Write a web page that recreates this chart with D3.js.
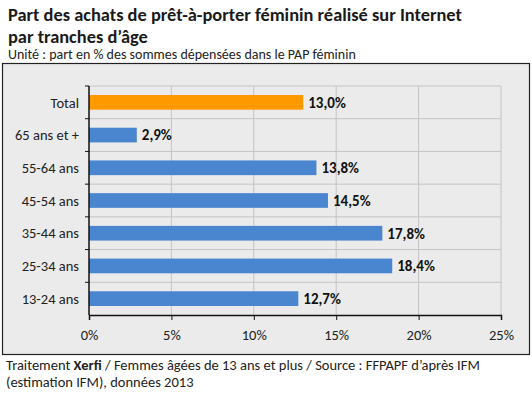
<!DOCTYPE html>
<html><head><meta charset="utf-8">
<script src="https://cdn.jsdelivr.net/npm/d3@7"></script>
<style>
body{margin:0;background:#fff;}
svg{display:block;font-family:Carlito, Lato, "Open Sans", sans-serif;}
</style></head>
<body><svg id="c" width="532" height="394"></svg>
<script>
const categories = ["Total","65 ans et +","55-64 ans","45-54 ans","35-44 ans","25-34 ans","13-24 ans"];
const values = [13.0, 2.9, 13.8, 14.5, 17.8, 18.4, 12.7];
const valueLabels = ["13,0%","2,9%","13,8%","14,5%","17,8%","18,4%","12,7%"];
const xTicks = [0,5,10,15,20,25];
const colors = ["#ff9900","#4a86cf","#4a86cf","#4a86cf","#4a86cf","#4a86cf","#4a86cf"];

const svg = d3.select("#c");
// titles
svg.append("text").attr("x",8).attr("y",21).attr("font-size",18.4).attr("font-weight","bold").attr("fill","#1a1a1a")
  .text("Part des achats de prêt-à-porter féminin réalisé sur Internet");
svg.append("text").attr("x",8).attr("y",43).attr("font-size",18.4).attr("font-weight","bold").attr("fill","#1a1a1a")
  .text("par tranches d’âge");
svg.append("text").attr("x",8).attr("y",59).attr("font-size",14).attr("fill","#222")
  .text("Unité : part en % des sommes dépensées dans le PAP féminin");

// chart box
svg.append("rect").attr("x",2.5).attr("y",63.5).attr("width",527).attr("height",291)
  .attr("fill","#ebebeb").attr("stroke","#222").attr("stroke-width",1.2);

const m = {left:89, right:501, top:86, bottom:315};
const x = d3.scaleLinear().domain([0,25]).range([m.left,m.right]);
const y = d3.scaleBand().domain(categories).range([m.top,m.bottom]).paddingInner(0.55).paddingOuter(0.275);

// vertical gridlines
svg.append("g").selectAll("line").data(xTicks.slice(1)).join("line")
  .attr("x1",d=>x(d)).attr("x2",d=>x(d)).attr("y1",m.top).attr("y2",m.bottom)
  .attr("stroke","#c4c4c4").attr("stroke-width",1);
// horizontal gridlines at band boundaries
const step = y.step();
const bounds = d3.range(categories.length).map(i=>m.top + i*step);
svg.append("g").selectAll("line").data(bounds).join("line")
  .attr("x1",m.left).attr("x2",m.right).attr("y1",d=>d).attr("y2",d=>d)
  .attr("stroke","#c4c4c4").attr("stroke-width",1);

// bars
svg.append("g").selectAll("rect").data(values).join("rect")
  .attr("x",x(0)).attr("y",(d,i)=>y(categories[i]))
  .attr("width",d=>x(d)-x(0)).attr("height",y.bandwidth())
  .attr("fill",(d,i)=>colors[i]);

// value labels
svg.append("g").selectAll("text").data(values).join("text")
  .attr("x",d=>x(d)+5).attr("y",(d,i)=>y(categories[i])+y.bandwidth()/2)
  .attr("dy","0.36em").attr("font-size",15).attr("font-weight","bold").attr("fill","#111")
  .text((d,i)=>valueLabels[i]);

// x axis
const xAxis = d3.axisBottom(x).tickValues(xTicks).tickFormat(d=>d+"%").tickSize(5).tickPadding(10);
const gx = svg.append("g").attr("transform",`translate(0,${m.bottom})`).call(xAxis);
gx.select(".domain").attr("stroke","#111").attr("stroke-width",1.5);
gx.selectAll(".tick line").attr("stroke","#111");
gx.selectAll("text").attr("font-size",14.5).attr("fill","#222").attr("font-family","Carlito, Lato, sans-serif");

// y axis: ticks at band boundaries
const gy = svg.append("g");
gy.append("line").attr("x1",m.left).attr("x2",m.left).attr("y1",m.top).attr("y2",m.bottom)
  .attr("stroke","#111").attr("stroke-width",1.5);
gy.selectAll("line.t").data(bounds).join("line").attr("class","t")
  .attr("x1",m.left-4).attr("x2",m.left).attr("y1",d=>d).attr("y2",d=>d).attr("stroke","#111");
gy.selectAll("text").data(categories).join("text")
  .attr("x",m.left-10).attr("y",d=>y(d)+y.bandwidth()/2).attr("dy","0.36em")
  .attr("text-anchor","end").attr("font-size",14.5).attr("fill","#222").text(d=>d);

// footer
const f1 = svg.append("text").attr("x",6).attr("y",370).attr("font-size",14.5).attr("fill","#222");
f1.append("tspan").text("Traitement ");
f1.append("tspan").attr("font-weight","bold").text("Xerfi");
f1.append("tspan").text(" / Femmes âgées de 13 ans et plus / Source : FFPAPF d’après IFM");
svg.append("text").attr("x",6).attr("y",387).attr("font-size",14.5).attr("fill","#222")
  .text("(estimation IFM), données 2013");
</script></body></html>
